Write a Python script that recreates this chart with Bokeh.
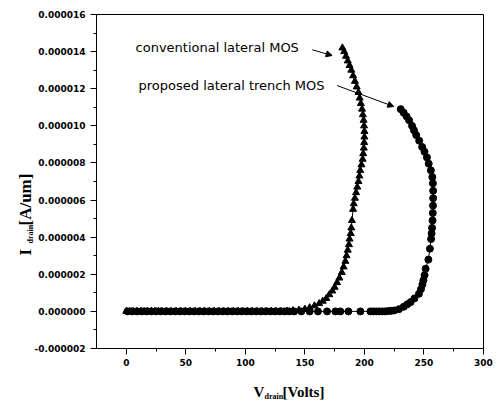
from math import pi
from bokeh.plotting import figure
from bokeh.models import Range1d, FixedTicker, PrintfTickFormatter, Label, Arrow, NormalHead, LinearAxis
from bokeh.embed import file_html
from bokeh.resources import INLINE

# ---- data (V_drain in volts, I_drain in uA/um; converted to A/um below) ----
conv_v = [0, 3, 6, 9, 12, 15, 18, 21, 24, 27, 30, 34, 38, 42, 46, 50, 54, 58, 62, 66,
          70, 74, 78, 82, 86, 90, 94, 98, 102, 106, 110, 114, 118, 122, 126, 130,
          135, 140, 145, 150, 154, 158, 162, 165, 168, 170.5, 173, 175, 177, 179, 181,
          182.5, 184, 185, 186, 187, 187.5, 188.5, 189, 189.5, 190.5, 191, 192, 193, 194,
          195, 195.8, 196.5, 197.5, 198.5, 199, 199.5, 199.8, 200, 200, 199.7, 199.3, 198.7,
          198, 197, 196, 195, 193.5, 192, 190.5, 189, 187.5, 186, 184.5, 183, 181.5, 180]
conv_i = [0, 0, 0, 0, 0, 0, 0, 0, 0, 0, 0, 0, 0, 0, 0, 0, 0, 0, 0, 0,
          0, 0, 0, 0, 0, 0, 0, 0, 0, 0, 0, 0, 0, 0, 0, 0,
          0.02, 0.04, 0.07, 0.12, 0.2, 0.3, 0.42, 0.55, 0.7, 0.9, 1.1, 1.3, 1.55, 1.8, 2.1,
          2.4, 2.7, 3.0, 3.3, 3.6, 3.9, 4.2, 4.5, 4.9, 5.5, 5.8, 6.1, 6.4, 6.7,
          7.0, 7.3, 7.6, 7.9, 8.2, 8.5, 8.8, 9.1, 9.4, 9.7, 10.0, 10.3, 10.6,
          10.9, 11.2, 11.5, 11.8, 12.1, 12.4, 12.7, 13.0, 13.25, 13.5, 13.75, 14.0, 14.2]

prop_v = [1, 5, 9, 13, 17, 21, 25, 29, 33, 37, 41, 45, 49, 53, 57, 61, 65, 69, 73, 77,
          81, 85, 89, 93, 97, 101, 105, 109, 113, 117, 121, 125, 129, 133, 137, 141,
          147, 154, 161, 168.6, 175.6, 179.8, 186.5, 196.6, 205, 207.5, 210, 212.5, 215,
          217.5, 220, 222.5, 225, 229, 233, 236, 238.8, 242, 245.8, 247.5, 248.7, 249.5,
          250.5, 251.4, 253.7, 255, 256, 256.4, 256.8, 257.2, 257.4, 257.6, 257.7, 257.7,
          257.5, 257, 255.8, 254, 252.5, 250.5, 248.5, 246, 243.5, 241.6, 240, 237.5,
          235.5, 233, 230.5]
prop_i = [0, 0, 0, 0, 0, 0, 0, 0, 0, 0, 0, 0, 0, 0, 0, 0, 0, 0, 0, 0,
          0, 0, 0, 0, 0, 0, 0, 0, 0, 0, 0, 0, 0, 0, 0, 0,
          0, 0, 0, 0, 0, 0, 0, 0, 0, 0, 0, 0, 0,
          0, 0.02, 0.03, 0.05, 0.12, 0.25, 0.38, 0.5, 0.7, 0.95, 1.2, 1.45, 1.67,
          1.95, 2.3, 2.79, 3.38, 3.9, 4.2, 4.5, 4.9, 5.3, 5.7, 6.1, 6.5,
          6.9, 7.24, 7.6, 7.96, 8.3, 8.6, 8.86, 9.2, 9.5, 9.76, 10.0, 10.3,
          10.5, 10.7, 10.9]

x_lo, x_hi = -25, 300
y_lo_uA, y_hi_uA = -2, 16
x_ticks = [0, 50, 100, 150, 200, 250, 300]
x_minor = [25, 75, 125, 175, 225, 275]
y_ticks_uA = [-2, 0, 2, 4, 6, 8, 10, 12, 14, 16]
y_minor_uA = [-1, 1, 3, 5, 7, 9, 11, 13, 15]

label_conv = "conventional lateral MOS"
label_prop = "proposed lateral trench MOS"

UA = 1e-6
conv_y = [v * UA for v in conv_i]
prop_y = [v * UA for v in prop_i]

# canvas layout (pixels): the axes box sits inside a frame that fills the canvas
W, H = 497, 402
box_l, box_r, box_t, box_b = 96, 483, 14, 348
sx = (box_r - box_l) / (x_hi - x_lo)
sy = (box_b - box_t) / (y_hi_uA - y_lo_uA)
xr = Range1d(x_lo - box_l / sx, x_hi + (W - box_r) / sx)
yr = Range1d((y_lo_uA - (H - box_b) / sy) * UA, (y_hi_uA + box_t / sy) * UA)

p = figure(width=W, height=H, x_range=xr, y_range=yr, output_backend="svg", toolbar_location=None,
           min_border=0, x_axis_location=None, y_axis_location=None)
p.background_fill_color = "white"
p.border_fill_color = "white"
p.outline_line_color = None
p.xgrid.visible = False
p.ygrid.visible = False

p.line(conv_v, conv_y, line_color="black", line_width=1)
p.scatter(conv_v, conv_y, marker="triangle", size=7, fill_color="black", line_color="black")
p.line(prop_v, prop_y, line_color="black", line_width=1)
p.scatter(prop_v, prop_y, marker="circle", size=7, fill_color="black", line_color="black")


def style(ax):
    ax.axis_line_color = "black"
    ax.major_tick_line_color = "black"
    ax.minor_tick_line_color = "black"
    ax.major_tick_in = 0
    ax.major_tick_out = 6
    ax.minor_tick_in = 0
    ax.minor_tick_out = 3
    ax.major_label_text_font = "DejaVu Sans"
    ax.major_label_text_font_style = "bold"
    ax.major_label_text_color = "black"


xax = LinearAxis(fixed_location=y_lo_uA * UA, bounds=(x_lo, x_hi),
                 ticker=FixedTicker(ticks=x_ticks, minor_ticks=x_minor))
style(xax)
xax.major_label_text_font_size = "9px"
xax.major_label_standoff = 4
p.add_layout(xax, "below")

yax = LinearAxis(fixed_location=x_lo, bounds=(y_lo_uA * UA, y_hi_uA * UA),
                 ticker=FixedTicker(ticks=[v * UA for v in y_ticks_uA], minor_ticks=[v * UA for v in y_minor_uA]),
                 formatter=PrintfTickFormatter(format="%.6f"))
style(yax)
yax.major_label_text_font_size = "9px"
yax.major_label_standoff = 5
p.add_layout(yax, "left")

# top and right edges of the box
top = LinearAxis(fixed_location=y_hi_uA * UA, bounds=(x_lo, x_hi), ticker=FixedTicker(ticks=[]),
                 major_label_text_font_size="0px", axis_line_color="black")
p.add_layout(top, "above")
right = LinearAxis(fixed_location=x_hi, bounds=(y_lo_uA * UA, y_hi_uA * UA), ticker=FixedTicker(ticks=[]),
                   major_label_text_font_size="0px", axis_line_color="black")
p.add_layout(right, "right")

serif = "Liberation Serif"
# x axis label: V_drain[Volts]   (screen units: from bottom-left of canvas)
p.add_layout(Label(x=253, y=H - 391, x_units="screen", y_units="screen", text="V", text_font=serif,
                   text_font_style="bold", text_font_size="15px", text_baseline="alphabetic", text_color="black"))
p.add_layout(Label(x=264, y=H - 396, x_units="screen", y_units="screen", text="drain", text_font=serif,
                   text_font_style="bold", text_font_size="8px", text_baseline="alphabetic", text_color="black"))
p.add_layout(Label(x=282, y=H - 391, x_units="screen", y_units="screen", text="[Volts]", text_font=serif,
                   text_font_style="bold", text_font_size="15px", text_baseline="alphabetic", text_color="black"))
# y axis label: I_drain[A/um]
p.add_layout(Label(x=25, y=H - 255, x_units="screen", y_units="screen", text="I", text_font=serif, angle=pi / 2,
                   text_font_style="bold", text_font_size="17px", text_baseline="alphabetic", text_color="black"))
p.add_layout(Label(x=30, y=H - 243, x_units="screen", y_units="screen", text="drain", text_font=serif, angle=pi / 2,
                   text_font_style="bold", text_font_size="8px", text_baseline="alphabetic", text_color="black"))
p.add_layout(Label(x=25, y=H - 225, x_units="screen", y_units="screen", text="[A/um]", text_font=serif, angle=pi / 2,
                   text_font_style="bold", text_font_size="17px", text_baseline="alphabetic", text_color="black"))

# annotations
p.add_layout(Label(x=7.8, y=14.2e-6, text=label_conv, text_font="DejaVu Sans", text_font_size="13px",
                   text_baseline="middle", text_color="black"))
p.add_layout(Label(x=10.3, y=12.2e-6, text=label_prop, text_font="DejaVu Sans", text_font_size="13px",
                   text_baseline="middle", text_color="black"))
p.add_layout(Arrow(end=NormalHead(size=6, fill_color="black", line_color="black"),
                   x_start=156.2, y_start=14.1e-6, x_end=172.9, y_end=13.79e-6, line_width=1))
p.add_layout(Arrow(end=NormalHead(size=6, fill_color="black", line_color="black"),
                   x_start=177.1, y_start=12.17e-6, x_end=224.7, y_end=11.04e-6, line_width=1))

open("out.html", "w").write(file_html(p, INLINE))
